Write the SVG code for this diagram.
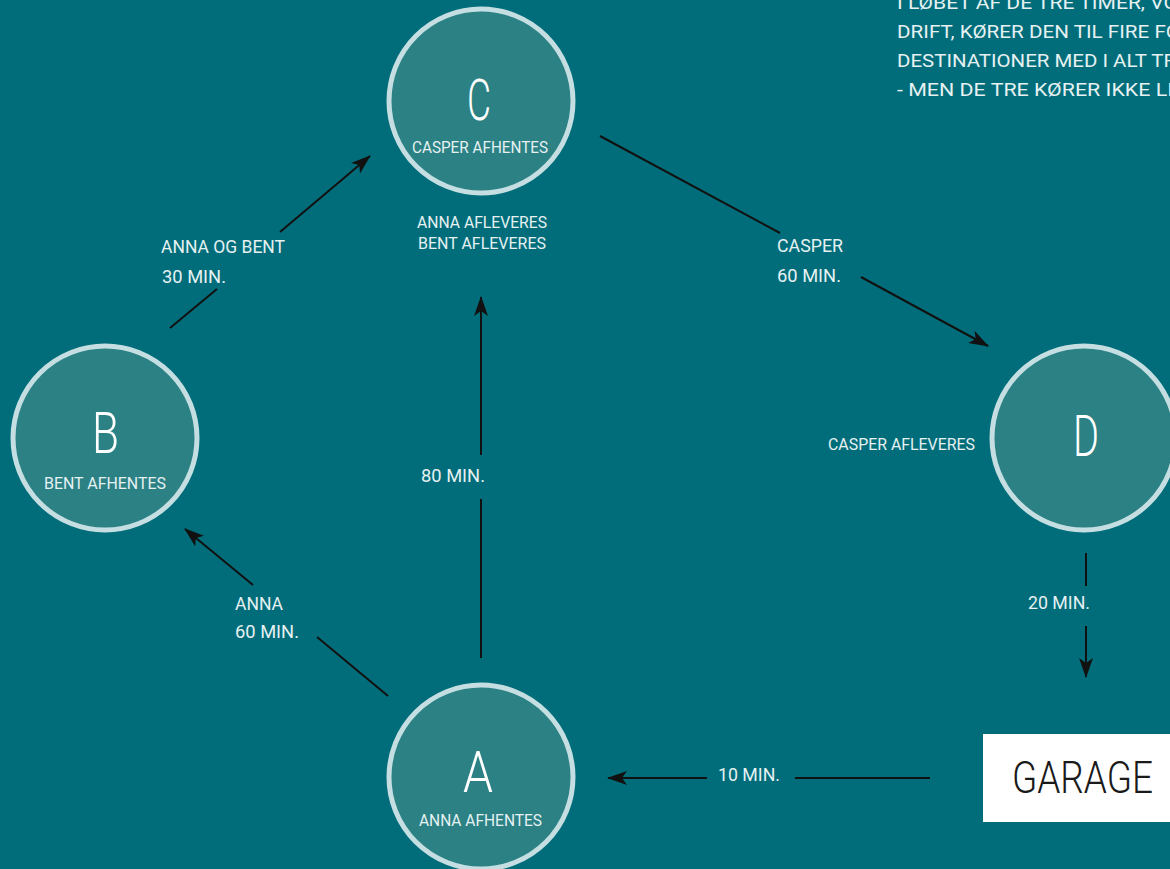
<svg xmlns="http://www.w3.org/2000/svg" width="1170" height="869" viewBox="0 0 1170 869">
<defs>
<marker id="ah" viewBox="0 0 20 14" refX="19" refY="7" markerWidth="20" markerHeight="14" orient="auto" markerUnits="userSpaceOnUse">
<path d="M0,0 L20,7 L0,14 L5,7 Z" fill="#111"/>
</marker>
<style>
.bg{fill:#016d7a}
.node{fill:#2b8184;stroke:#c4dee2;stroke-width:5}
.big{font-family:Roboto,"Liberation Sans",sans-serif;font-weight:300;font-size:58px;fill:#ffffff;text-anchor:start}
.sub{font-family:Roboto,"Liberation Sans",sans-serif;font-size:16px;fill:#e6f1f2}
.lbl{font-family:Roboto,"Liberation Sans",sans-serif;font-size:19px;fill:#e6f1f2}
.note{font-family:Roboto,"Liberation Sans",sans-serif;font-size:19px;fill:#e6f1f2}
.ln{stroke:#111;stroke-width:2;fill:none}
.gar{font-family:Roboto,"Liberation Sans",sans-serif;font-weight:300;font-size:44px;fill:#1a1a1a}
</style>
</defs>
<rect class="bg" x="0" y="0" width="1170" height="869"/>

<g id="note">
<text class="note" x="897" y="9" textLength="281" lengthAdjust="spacingAndGlyphs">I LØBET AF DE TRE TIMER, VO</text>
<text class="note" x="897" y="38" textLength="283" lengthAdjust="spacingAndGlyphs">DRIFT, KØRER DEN TIL FIRE FO</text>
<text class="note" x="897" y="67" textLength="279" lengthAdjust="spacingAndGlyphs">DESTINATIONER MED I ALT TR</text>
<text class="note" x="897" y="96" textLength="276" lengthAdjust="spacingAndGlyphs">- MEN DE TRE KØRER IKKE LI</text>
</g>

<g id="connectors">
<!-- B to C -->
<line class="ln" x1="170" y1="328" x2="217" y2="289"/>
<line class="ln" x1="280" y1="232" x2="370" y2="156" marker-end="url(#ah)"/>
<text class="lbl" x="161" y="253" textLength="124" lengthAdjust="spacingAndGlyphs">ANNA OG BENT</text>
<text class="lbl" x="162" y="283" textLength="64" lengthAdjust="spacingAndGlyphs">30 MIN.</text>
<!-- C to D -->
<line class="ln" x1="600" y1="136" x2="780" y2="233"/>
<line class="ln" x1="861" y1="277" x2="988" y2="346" marker-end="url(#ah)"/>
<text class="lbl" x="777" y="252" textLength="66" lengthAdjust="spacingAndGlyphs">CASPER</text>
<text class="lbl" x="777" y="282" textLength="64" lengthAdjust="spacingAndGlyphs">60 MIN.</text>
<!-- A to C -->
<line class="ln" x1="481" y1="658" x2="481" y2="499"/>
<line class="ln" x1="481" y1="455" x2="481" y2="297" marker-end="url(#ah)"/>
<text class="lbl" x="421" y="482" textLength="64" lengthAdjust="spacingAndGlyphs">80 MIN.</text>
<!-- A to B -->
<line class="ln" x1="388" y1="696" x2="317" y2="637"/>
<line class="ln" x1="253" y1="585" x2="185" y2="529" marker-end="url(#ah)"/>
<text class="lbl" x="235" y="610" textLength="48" lengthAdjust="spacingAndGlyphs">ANNA</text>
<text class="lbl" x="235" y="638" textLength="64" lengthAdjust="spacingAndGlyphs">60 MIN.</text>
<!-- D to GARAGE -->
<line class="ln" x1="1086" y1="553" x2="1086" y2="586"/>
<line class="ln" x1="1086" y1="626" x2="1086" y2="677" marker-end="url(#ah)"/>
<text class="lbl" x="1028" y="609" textLength="62" lengthAdjust="spacingAndGlyphs">20 MIN.</text>
<!-- GARAGE to A -->
<line class="ln" x1="930" y1="778" x2="795" y2="778"/>
<line class="ln" x1="707" y1="778" x2="608" y2="778" marker-end="url(#ah)"/>
<text class="lbl" x="718" y="781" textLength="62" lengthAdjust="spacingAndGlyphs">10 MIN.</text>
</g>

<g id="node-C">
<circle class="node" cx="481" cy="101" r="92"/>
<text class="big" x="467" y="120" textLength="24" lengthAdjust="spacingAndGlyphs">C</text>
<text class="sub" x="412" y="153" textLength="136" lengthAdjust="spacingAndGlyphs">CASPER AFHENTES</text>
<text class="sub" x="417" y="228" textLength="130" lengthAdjust="spacingAndGlyphs">ANNA AFLEVERES</text>
<text class="sub" x="418" y="249" textLength="128" lengthAdjust="spacingAndGlyphs">BENT AFLEVERES</text>
</g>

<g id="node-B">
<circle class="node" cx="105" cy="438" r="92"/>
<text class="big" x="92" y="453" textLength="27" lengthAdjust="spacingAndGlyphs">B</text>
<text class="sub" x="44" y="489" textLength="122" lengthAdjust="spacingAndGlyphs">BENT AFHENTES</text>
</g>

<g id="node-D">
<circle class="node" cx="1084" cy="438" r="92"/>
<text class="big" x="1073" y="456" textLength="26" lengthAdjust="spacingAndGlyphs">D</text>
<text class="sub" x="828" y="450" textLength="147" lengthAdjust="spacingAndGlyphs">CASPER AFLEVERES</text>
</g>

<g id="node-A">
<circle class="node" cx="481" cy="777" r="92"/>
<text class="big" x="463" y="792" textLength="30" lengthAdjust="spacingAndGlyphs">A</text>
<text class="sub" x="419" y="826" textLength="123" lengthAdjust="spacingAndGlyphs">ANNA AFHENTES</text>
</g>

<g id="node-GARAGE">
<rect x="983" y="734" width="200" height="88" fill="#ffffff"/>
<text class="gar" x="1012" y="793" textLength="141" lengthAdjust="spacingAndGlyphs">GARAGE</text>
</g>
</svg>
